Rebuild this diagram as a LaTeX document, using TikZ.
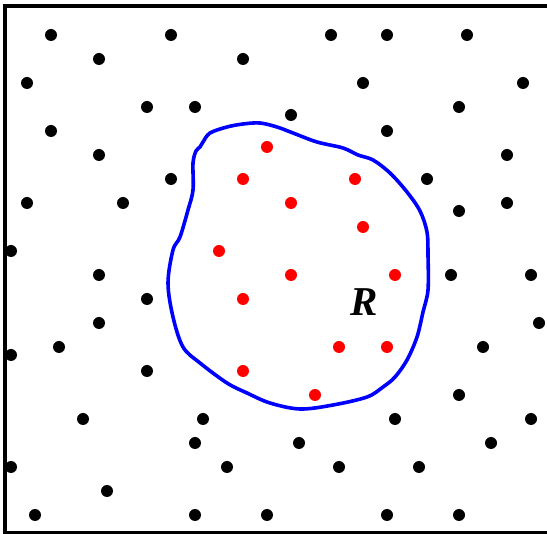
\documentclass[tikz,border=0pt]{standalone}
\usepackage{fontspec}
\setmainfont{Liberation Serif}
\usepackage{tikz}
\usetikzlibrary{positioning}
\tikzset{
    bdot/.style={circle, fill=black, inner sep=0pt, minimum size=12pt},
    rdot/.style={circle, fill=red, inner sep=0pt, minimum size=12pt},
    frame/.style={draw=black, line width=4pt},
    region/.style={draw=blue, line width=3.6pt},
    rlabel/.style={font=\fontsize{41}{41}\selectfont\bfseries\itshape, inner sep=0pt},
}
\begin{document}
\begin{tikzpicture}[x=1pt, y=-1pt]
    \useasboundingbox (0,0) rectangle (547,534);
    % Marco
    \draw[frame] (570,6) -- (4.7,6) -- (4.7,533.5) -- (570,533.5);
    % Region R
    \draw[region] plot[smooth cycle, tension=0.55] coordinates {
        (203,142) (210,133) (227,127) (243,124) (260,123) (277,127) (293,133)
        (317,142) (343,148) (358,155) (373,160) (390,173) (407,192) (420,211)
        (427,232) (428,255) (428,290) (423,312) (417,337) (407,360) (395,377)
        (383,387) (367,397) (333,405) (300,409) (270,403) (247,393) (227,383)
        (200,363) (183,347) (173,317) (168,283) (173,250) (180,237) (188,210)
        (193,190) (193,163) (196,151) (200,147)};
    \node[rlabel] (R) at (364,302) {R};
    % Puntos fuera
    \foreach \x/\y [count=\i] in {
        51/35, 171/35, 331/35, 387/35, 467/35,
        99/59, 243/59,
        27/83, 363/83, 523/83,
        147/107, 195/107, 291/115, 459/107,
        51/131, 387/131,
        99/155, 507/155,
        171/179, 427/179,
        27/203, 123/203, 459/211, 507/203,
        11/251,
        99/275, 451/275, 531/275,
        147/299,
        99/323, 539/323,
        11/355, 59/347, 483/347,
        147/371,
        459/395,
        83/419, 203/419, 395/419, 531/419,
        195/443, 299/443, 491/443,
        11/467, 227/467, 339/467, 419/467,
        107/491,
        35/515, 195/515, 267/515, 387/515, 459/515}
        \node[bdot] (b\i) at (\x,\y) {};
    % Puntos dentro
    \foreach \x/\y [count=\i] in {
        267/147, 243/179, 355/179, 291/203, 363/227, 219/251, 291/275,
        395/275, 243/299, 339/347, 387/347, 243/371, 315/395}
        \node[rdot] (r\i) at (\x,\y) {};
\end{tikzpicture}
\end{document}
